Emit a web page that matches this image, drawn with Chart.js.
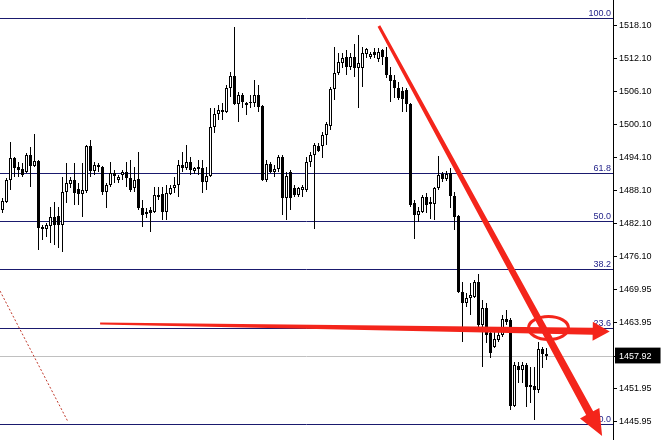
<!DOCTYPE html>
<html><head><meta charset="utf-8">
<script src="https://cdn.jsdelivr.net/npm/chart.js@4"></script>
<style>html,body{margin:0;padding:0;background:#fff}canvas{display:block}</style>
</head><body>
<canvas id="c" width="661" height="440"></canvas>
<script>
const opens = [
1484.52,1485.98,1489.98,1493.99,1492.35,1491.99,1491.44,1494.54,1492.53,1493.45,
1481.42,1481.06,1481.60,1483.24,1483.42,1481.79,1487.80,1489.26,1489.98,1488.34,
1487.43,1487.98,1496.18,1491.62,1492.72,1492.35,1487.80,1489.07,1491.26,1489.98,
1490.89,1491.44,1490.35,1488.53,1490.17,1484.88,1483.79,1484.52,1484.15,1486.89,
1487.43,1484.15,1487.43,1488.53,1489.07,1492.72,1492.17,1493.26,1491.62,1491.99,
1492.17,1489.62,1490.71,1499.64,1502.01,1502.37,1502.37,1506.75,1508.93,1503.83,
1505.47,1503.65,1504.01,1504.01,1505.47,1503.47,1489.98,1492.90,1491.44,1491.99,
1494.17,1486.70,1491.44,1488.53,1487.25,1488.16,1488.16,1493.26,1494.54,1496.18,
1496.18,1498.18,1499.82,1506.56,1509.48,1511.30,1512.40,1510.57,1512.40,1510.39,
1510.39,1512.94,1512.40,1513.31,1512.03,1513.67,1512.40,1509.12,1508.20,1506.75,
1506.20,1506.38,1503.83,1485.79,1483.61,1484.15,1486.89,1485.98,1485.61,1488.53,
1491.08,1490.17,1491.26,1487.07,1483.42,1469.58,1467.57,1468.49,1468.67,1471.40,
1463.57,1466.66,1462.11,1459.56,1460.83,1461.74,1464.66,1464.48,1448.81,1456.09,
1455.37,1456.28,1452.63,1452.45,1451.72,1459.19,1458.28];
const highs = [
1486.70,1490.35,1496.91,1494.17,1493.26,1493.08,1494.90,1496.00,1498.37,1493.63,
1481.79,1482.15,1485.07,1485.98,1485.07,1490.53,1493.08,1490.53,1493.08,1489.44,
1493.08,1496.36,1497.27,1493.26,1493.08,1492.53,1489.44,1493.26,1491.81,1490.89,
1491.81,1493.26,1493.63,1492.35,1495.09,1486.34,1484.88,1485.07,1488.71,1488.71,
1488.71,1489.07,1489.07,1490.53,1493.63,1495.09,1496.36,1494.17,1492.35,1493.63,
1493.63,1492.35,1503.10,1503.10,1503.65,1504.01,1507.29,1509.66,1517.86,1506.02,
1505.84,1504.20,1505.47,1508.20,1507.29,1503.65,1493.63,1493.26,1492.72,1494.54,
1494.54,1491.44,1491.81,1489.07,1488.71,1489.07,1494.17,1495.09,1496.73,1496.73,
1498.73,1500.55,1506.93,1514.22,1513.12,1513.12,1513.67,1513.12,1514.76,1516.40,
1514.22,1514.03,1513.31,1514.03,1514.03,1513.85,1514.22,1510.57,1509.12,1507.84,
1506.93,1506.75,1504.01,1486.34,1485.07,1487.25,1487.62,1486.89,1488.71,1494.36,
1491.44,1491.62,1492.17,1487.80,1483.61,1471.40,1469.40,1471.22,1471.76,1472.86,
1468.12,1467.57,1463.20,1462.29,1463.20,1465.39,1466.30,1464.84,1456.82,1456.82,
1456.82,1456.64,1455.91,1455.91,1460.47,1459.56,1459.37];
const lows = [
1483.97,1485.79,1488.16,1490.53,1490.53,1490.53,1491.26,1488.71,1492.35,1477.23,
1479.06,1479.60,1478.51,1478.14,1477.60,1476.87,1485.79,1488.53,1485.43,1485.43,
1483.24,1487.62,1490.53,1490.89,1491.44,1487.25,1484.88,1488.71,1489.44,1489.44,
1489.98,1488.71,1487.80,1487.80,1484.52,1481.42,1483.06,1480.51,1483.97,1486.34,
1482.70,1482.70,1487.25,1487.62,1486.89,1491.44,1491.81,1490.89,1491.08,1490.89,
1487.62,1488.16,1490.53,1498.55,1500.92,1500.92,1502.19,1505.11,1503.65,1500.55,
1503.10,1501.83,1503.10,1503.29,1502.37,1489.80,1489.62,1491.26,1490.53,1491.44,
1483.61,1482.70,1484.52,1486.89,1486.89,1486.89,1487.80,1492.35,1481.06,1495.09,
1493.99,1496.36,1499.09,1504.56,1509.12,1510.39,1509.12,1510.03,1508.75,1503.10,
1506.93,1512.21,1512.03,1512.21,1511.48,1510.94,1508.57,1504.20,1504.92,1504.56,
1502.37,1502.37,1485.07,1479.24,1482.33,1483.97,1483.97,1482.88,1482.70,1488.16,
1489.62,1489.80,1484.88,1480.87,1469.40,1460.47,1466.85,1465.39,1468.49,1463.20,
1455.91,1460.29,1457.55,1459.37,1460.47,1461.38,1463.57,1448.08,1448.63,1453.00,
1453.00,1448.63,1449.35,1446.26,1451.17,1455.73,1457.19];
const closes = [
1486.16,1489.98,1493.99,1492.17,1491.81,1490.89,1494.54,1492.53,1493.45,1481.24,
1481.06,1481.79,1483.24,1481.79,1481.79,1487.80,1489.44,1489.98,1487.62,1487.43,
1488.16,1496.18,1491.62,1492.72,1492.35,1487.80,1489.07,1491.26,1490.71,1490.53,
1491.44,1490.35,1488.16,1489.98,1484.88,1483.61,1484.15,1483.97,1487.25,1487.25,
1484.15,1487.62,1488.53,1489.07,1492.72,1492.17,1493.26,1491.81,1492.17,1492.35,
1489.62,1490.71,1499.64,1502.01,1502.74,1502.74,1506.75,1508.93,1503.83,1505.47,
1504.20,1504.01,1504.20,1505.47,1503.29,1489.98,1492.90,1491.44,1491.99,1494.17,
1486.70,1490.71,1486.70,1487.25,1488.53,1488.71,1493.26,1494.54,1496.36,1495.27,
1498.18,1500.19,1506.56,1509.48,1511.48,1512.21,1510.57,1512.40,1510.39,1511.30,
1513.12,1513.85,1512.94,1512.76,1513.31,1512.40,1509.12,1508.02,1506.75,1504.92,
1504.74,1503.83,1485.43,1483.61,1484.34,1486.89,1485.43,1485.61,1488.53,1490.89,
1490.17,1491.08,1487.07,1483.24,1469.58,1467.57,1468.49,1469.03,1471.40,1463.57,
1466.66,1461.74,1458.46,1461.02,1461.74,1464.66,1464.11,1448.81,1456.28,1455.37,
1456.28,1452.27,1452.27,1451.72,1459.19,1458.28,1457.92];

const tickValues = [1518.10,1512.10,1506.10,1500.10,1494.10,1488.10,1482.10,1476.10,1469.95,1463.95,1457.92,1451.95,1445.95];
const lastPrice = 1457.92;
const fibLabels = ['100.0','61.8','50.0','38.2','23.6','0.0'];
const fibPrices = [1519.50,1491.23,1482.50,1473.77,1462.96,1445.50];
// hand-drawn annotations, in [bar index, price]
const trendArrow = [[94.1,1518.04],[149.9,1443.35]];
const levelArrow = [[24.4,1463.84],[151.8,1462.40]];
const circleMark = [136.5,1463.03];
const dottedLine = [[-0.625,1469.77],[16.4,1445.90]];

const idx = opens.map((_, i) => i);
const wickData = idx.map(i => ({x: i, y: [lows[i], highs[i]]}));
const bodyData = idx.map(i => ({x: i, y: [opens[i], closes[i]]}));
const bodyFill = idx.map(i => closes[i] >= opens[i] ? '#ffffff' : '#000000');

const RED = '#f4251b';
function taperArrow(ctx, x0, y0, x1, y1, w0, w1, headLen, headHalf) {
  const dx = x1 - x0, dy = y1 - y0, L = Math.hypot(dx, dy);
  const ux = dx / L, uy = dy / L, nx = -uy, ny = ux;
  const bx = x1 - ux * headLen, by = y1 - uy * headLen;
  ctx.beginPath();
  ctx.moveTo(x0 + nx * w0 / 2, y0 + ny * w0 / 2);
  ctx.lineTo(bx + nx * w1 / 2, by + ny * w1 / 2);
  ctx.lineTo(bx + nx * headHalf, by + ny * headHalf);
  ctx.lineTo(x1, y1);
  ctx.lineTo(bx - nx * headHalf, by - ny * headHalf);
  ctx.lineTo(bx - nx * w1 / 2, by - ny * w1 / 2);
  ctx.lineTo(x0 - nx * w0 / 2, y0 - ny * w0 / 2);
  ctx.closePath();
  ctx.fill();
}

const overlay = {
  id: 'overlay',
  beforeDatasetsDraw(chart) {
    const {ctx, chartArea: a, scales: {y}} = chart;
    ctx.save();
    ctx.lineWidth = 1;
    let py = Math.floor(y.getPixelForValue(lastPrice)) + 0.5;
    ctx.strokeStyle = '#c0c0c0';
    ctx.beginPath(); ctx.moveTo(a.left, py); ctx.lineTo(a.right, py); ctx.stroke();
    ctx.strokeStyle = '#1a1a6e';
    fibPrices.forEach(p => {
      const yy = Math.floor(y.getPixelForValue(p)) + 0.5;
      ctx.beginPath(); ctx.moveTo(a.left, yy); ctx.lineTo(a.right, yy); ctx.stroke();
    });
    ctx.restore();
  },
  afterDraw(chart) {
    const {ctx, chartArea: a, scales: {x, y}} = chart;
    ctx.save();
    ctx.font = '9px "Liberation Sans", Arial, sans-serif';
    ctx.fillStyle = '#23238a';
    ctx.textAlign = 'right';
    ctx.textBaseline = 'alphabetic';
    fibPrices.forEach((p, i) => {
      const yy = Math.floor(y.getPixelForValue(p));
      ctx.fillText(fibLabels[i], a.right - 2, yy - 2);
    });
    ctx.strokeStyle = '#c0392b';
    ctx.lineWidth = 1;
    ctx.setLineDash([2, 2]);
    ctx.beginPath();
    ctx.moveTo(x.getPixelForValue(dottedLine[0][0]), y.getPixelForValue(dottedLine[0][1]));
    ctx.lineTo(x.getPixelForValue(dottedLine[1][0]), y.getPixelForValue(dottedLine[1][1]));
    ctx.stroke();
    ctx.setLineDash([]);
    ctx.fillStyle = RED;
    taperArrow(ctx,
      x.getPixelForValue(levelArrow[0][0]), y.getPixelForValue(levelArrow[0][1]),
      x.getPixelForValue(levelArrow[1][0]), y.getPixelForValue(levelArrow[1][1]),
      2, 7, 17, 9.5);
    taperArrow(ctx,
      x.getPixelForValue(trendArrow[0][0]), y.getPixelForValue(trendArrow[0][1]),
      x.getPixelForValue(trendArrow[1][0]), y.getPixelForValue(trendArrow[1][1]),
      3, 8, 26, 11);
    ctx.strokeStyle = RED;
    ctx.lineWidth = 3;
    ctx.beginPath();
    ctx.ellipse(x.getPixelForValue(circleMark[0]), y.getPixelForValue(circleMark[1]), 20, 11.5, 0, 0, Math.PI * 2);
    ctx.stroke();
    ctx.restore();
  }
};

new Chart(document.getElementById('c'), {
  type: 'bar',
  data: {
    datasets: [
      {data: wickData, backgroundColor: '#000', borderWidth: 0, barThickness: 1, grouped: false, inflateAmount: 0, order: 2},
      {data: bodyData, backgroundColor: bodyFill, borderColor: '#000', borderWidth: 1, borderSkipped: false,
       barThickness: 3, grouped: false, inflateAmount: 0, order: 1}
    ]
  },
  options: {
    responsive: false,
    animation: false,
    events: [],
    layout: {padding: 0},
    plugins: {legend: {display: false}, tooltip: {enabled: false}},
    scales: {
      x: {type: 'linear', display: false, min: -0.625, max: 152.625, offset: false, grid: {display: false}},
      y: {
        position: 'right', min: 1442.62, max: 1522.78,
        afterBuildTicks: s => { s.ticks = tickValues.map(v => ({value: v})); },
        afterFit: s => { s.width = 48; s.paddingTop = 0; s.paddingBottom = 0; },
        grid: {drawOnChartArea: false, drawTicks: true, tickLength: 4, color: '#000', lineWidth: 1},
        border: {display: true, color: '#000', width: 1},
        ticks: {
          autoSkip: false,
          padding: 2,
          color: c => (c.tick && c.tick.value === lastPrice) ? '#fff' : '#000',
          font: {family: '"Liberation Sans", Arial, sans-serif', size: 9},
          callback: v => Number(v).toFixed(2),
          showLabelBackdrop: c => !!(c.tick && c.tick.value === lastPrice),
          backdropColor: '#000',
          backdropPadding: {top: 3, bottom: 2, left: 4, right: 9}
        }
      }
    }
  },
  plugins: [overlay]
});
</script>
</body></html>
